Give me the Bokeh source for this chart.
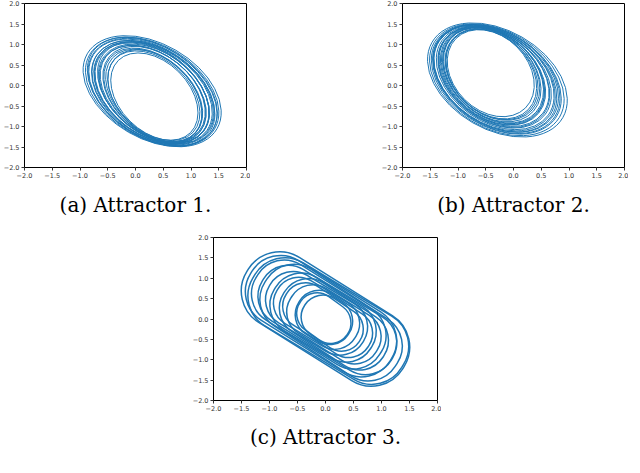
from bokeh.plotting import figure
from bokeh.models import FixedTicker, Spacer
from bokeh.layouts import column, row
from bokeh.embed import file_html
from bokeh.resources import INLINE

# ---- data ----
TICKS = [-2.0, -1.5, -1.0, -0.5, 0.0, 0.5, 1.0, 1.5, 2.0]
TICK_LABELS = ["\u22122.0", "\u22121.5", "\u22121.0", "\u22120.5", "0.0", "0.5", "1.0", "1.5", "2.0"]

CAPTIONS = ["(a) Attractor 1.", "(b) Attractor 2.", "(c) Attractor 3."]

# Attractor 1 and 2: each loop read as a tilted oval: centre, width, height (data units), tilt (deg)
A1_CX = [0.34, 0.33, 0.35, 0.32, 0.34, 0.31, 0.33, 0.30, 0.32, 0.31, 0.29, 0.31, 0.30, 0.30, 0.32, 0.30, 0.33, 0.31, 0.29, 0.32]
A1_CY = [-0.27, -0.25, -0.26, -0.23, -0.22, -0.21, -0.20, -0.19, -0.18, -0.17, -0.16, -0.16, -0.15, -0.14, -0.17, -0.15, -0.24, -0.20, -0.18, -0.19]
A1_W = [1.84, 1.93, 1.98, 2.05, 2.12, 2.18, 2.24, 2.30, 2.36, 2.42, 2.49, 2.55, 2.62, 2.70, 2.27, 2.58, 2.01, 2.15, 2.33, 2.46]
A1_H = [1.69, 1.74, 1.80, 1.83, 1.90, 1.94, 1.99, 2.03, 2.09, 2.12, 2.17, 2.22, 2.26, 2.31, 2.01, 2.20, 1.79, 1.92, 2.05, 2.15]
A1_ANG = [-45, -43, -44, -41, -40, -38, -37, -36, -35, -34, -33, -32, -31, -30, -38, -33, -42, -39, -36, -34]

A2_CX = [-0.41, -0.40, -0.38, -0.39, -0.36, -0.37, -0.35, -0.34, -0.33, -0.34, -0.32, -0.31, -0.30, -0.29, -0.36, -0.31, -0.39, -0.37, -0.35, -0.33]
A2_CY = [0.30, 0.28, 0.27, 0.26, 0.24, 0.23, 0.22, 0.20, 0.19, 0.18, 0.17, 0.15, 0.14, 0.135, 0.25, 0.16, 0.27, 0.23, 0.21, 0.17]
A2_W = [1.77, 1.85, 1.92, 1.99, 2.06, 2.12, 2.20, 2.26, 2.34, 2.40, 2.47, 2.55, 2.63, 2.72, 2.03, 2.51, 1.88, 2.09, 2.23, 2.44]
A2_H = [1.81, 1.85, 1.90, 1.94, 1.98, 2.03, 2.07, 2.11, 2.16, 2.20, 2.25, 2.30, 2.36, 2.41, 1.96, 2.28, 1.87, 2.00, 2.09, 2.22]
A2_ANG = [-45, -44, -42, -41, -40, -39, -37, -36, -35, -34, -33, -32, -31, -30, -41, -33, -43, -40, -37, -34]

# Attractor 3: each loop read as a tilted rounded band: centre, length, width (data units), tilt (deg)
A3_CX = [-0.03, 0.12, -0.14, 0.15, -0.16, 0.15, -0.16, 0.15, -0.15, 0.14, -0.12, 0.10, -0.08, 0.05, 0.00]
A3_CY = [0.02, -0.10, 0.13, -0.12, 0.14, -0.13, 0.14, -0.13, 0.13, -0.12, 0.11, -0.09, 0.07, -0.05, 0.00]
A3_W = [1.02, 1.17, 1.32, 1.47, 1.63, 1.80, 1.95, 2.11, 2.28, 2.44, 2.60, 2.77, 2.94, 3.10, 3.28]
A3_H = [1.00, 1.06, 1.12, 1.17, 1.23, 1.29, 1.36, 1.42, 1.48, 1.53, 1.60, 1.66, 1.73, 1.81, 1.88]
A3_ANG = [-36, -34, -33, -33, -31, -32, -31, -33, -32, -31, -32, -33, -32, -31, -32]

BLUE = "#1f77b4"
CAPTION_FONT = "DejaVu Serif"
CAPTION_SIZE = "20px"


def base_plot(caption, fw, fh, mb_top, mb_bottom, title_standoff):
    p = figure(frame_width=fw, frame_height=fh, x_range=(-2, 2), y_range=(-2, 2),
               output_backend="svg", toolbar_location=None, title=caption,
               title_location="below", min_border_left=22, min_border_right=4,
               min_border_top=mb_top, min_border_bottom=mb_bottom)
    p.title.align = "center"
    p.title.text_font = CAPTION_FONT
    p.title.text_font_size = CAPTION_SIZE
    p.title.text_font_style = "normal"
    p.title.text_color = "black"
    p.title.standoff = title_standoff
    p.grid.visible = False
    p.outline_line_color = "black"
    p.outline_line_width = 1
    p.background_fill_color = "white"
    p.border_fill_color = "white"
    for ax in (p.xaxis[0], p.yaxis[0]):
        ax.ticker = FixedTicker(ticks=TICKS)
        ax.major_label_overrides = {t: l for t, l in zip(TICKS, TICK_LABELS)}
        ax.major_label_text_font = "DejaVu Sans"
        ax.major_label_text_font_size = "6.5px"
        ax.major_label_text_color = "#333333"
        ax.major_tick_out = 3
        ax.major_tick_in = 0
        ax.minor_tick_line_color = None
        ax.major_label_standoff = 2
        ax.axis_line_color = "black"
        ax.major_tick_line_color = "#333333"
    return p


p1 = base_plot(CAPTIONS[0], 222, 164, 3, 62, 20)
p1.ellipse(x=A1_CX, y=A1_CY, width=A1_W, height=A1_H, angle=A1_ANG, angle_units="deg",
           fill_color=None, line_color=BLUE, line_width=1.0)

p2 = base_plot(CAPTIONS[1], 222, 164, 3, 62, 20)
p2.ellipse(x=A2_CX, y=A2_CY, width=A2_W, height=A2_H, angle=A2_ANG, angle_units="deg",
           fill_color=None, line_color=BLUE, line_width=1.0)

FH3 = 163
p3 = base_plot(CAPTIONS[2], 224, FH3, 8, 57, 19)
for i in range(len(A3_CX)):
    short_side_px = A3_H[i] * FH3 / 4.0
    p3.rect(x=[A3_CX[i]], y=[A3_CY[i]], width=[A3_W[i]], height=[A3_H[i]],
            angle=[A3_ANG[i]], angle_units="deg", fill_color=None,
            line_color=BLUE, line_width=1.5, border_radius=int(round(0.48 * short_side_px)))

layout = column(row(p1, Spacer(width=128, height=10), p2),
                row(Spacer(width=189, height=10), p3))

open("out.html", "w").write(file_html(layout, INLINE))
